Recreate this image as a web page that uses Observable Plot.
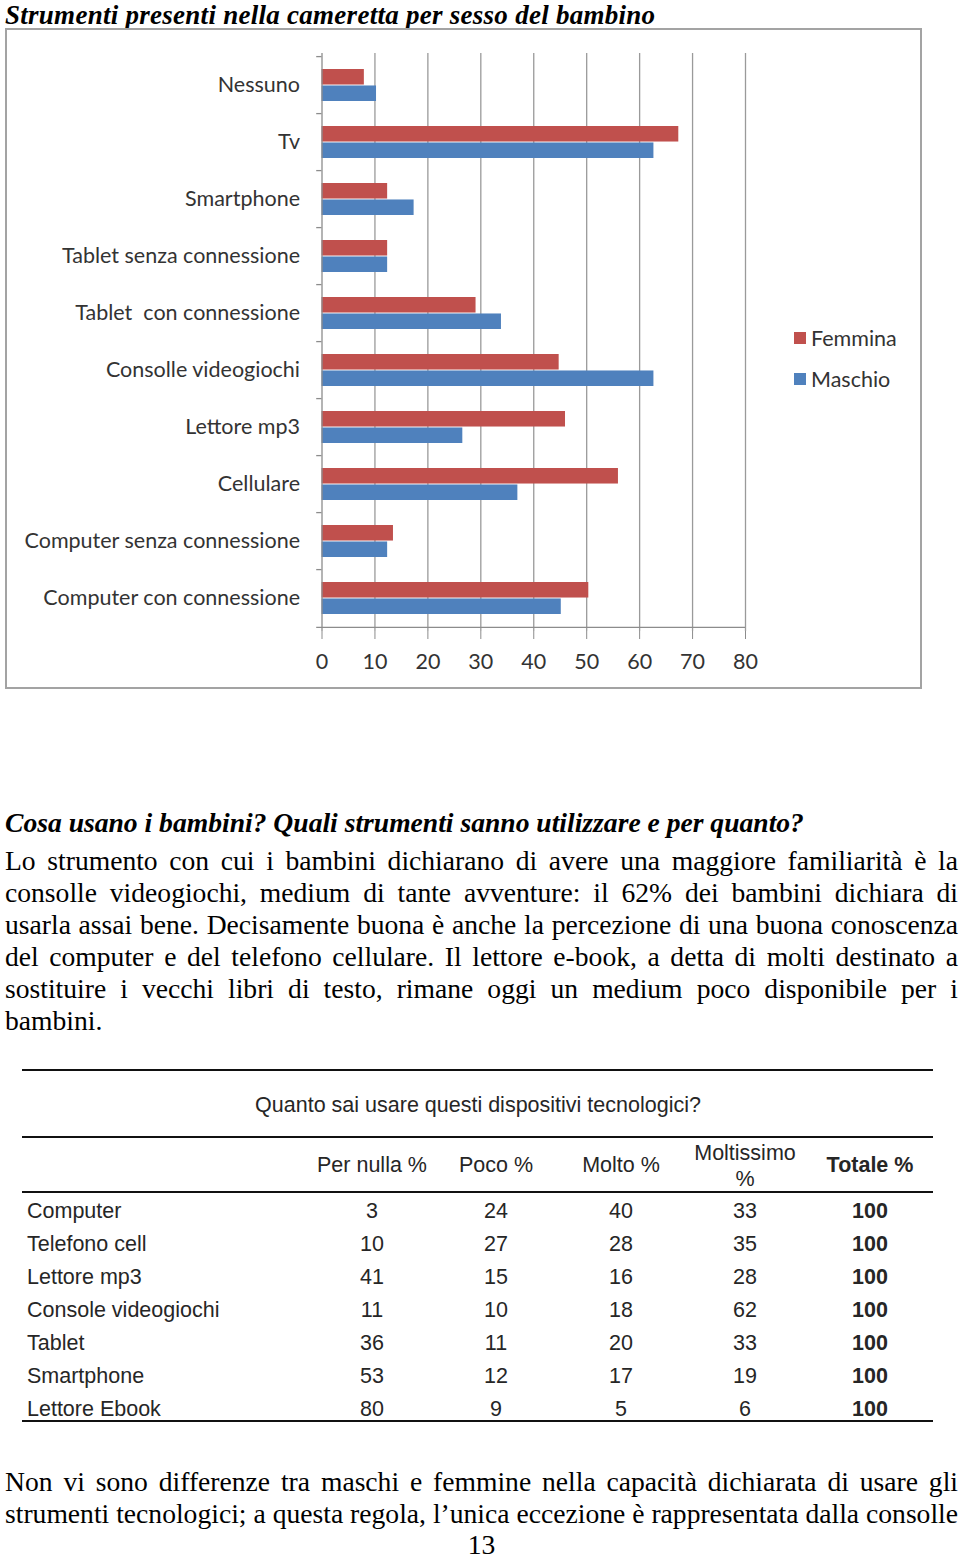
<!DOCTYPE html>
<html><head><meta charset="utf-8">
<script src="https://cdn.jsdelivr.net/npm/d3@7"></script>
<script src="https://cdn.jsdelivr.net/npm/@observablehq/plot@0.6"></script>
<style>
html,body{margin:0;padding:0;background:#fff}
body{width:960px;height:1557px;position:relative;overflow:hidden}
.serif{position:absolute;font-family:"Liberation Serif","Times New Roman",serif;font-size:27.6px;color:#000}
.bi{font-weight:bold;font-style:italic}
.jl{text-align:justify;text-align-last:justify;height:32px;line-height:32px}
.ll{text-align:left;height:32px;line-height:32px}
#box{position:absolute;left:5px;top:28px;width:913px;height:657px;border:2px solid #a3a3a3}
#box svg text{white-space:pre}
#legend{position:absolute;left:794px;top:318px;font-family:Lato,"Open Sans",sans-serif;font-size:21.5px;color:#333}
#legend .it{position:relative;height:41px;line-height:41px;padding-left:17px}
#legend .sw{position:absolute;left:0;top:14px;width:12px;height:12px}
.tb{position:absolute;font-family:"Liberation Sans",Arial,sans-serif;font-size:21.5px;color:#262626;line-height:24px;height:24px;white-space:nowrap}
.rule{position:absolute;left:22px;width:911px;height:2px;background:#111}
</style>
</head><body>
<div class="serif bi" style="left:5px;top:0.5px;line-height:28px;font-size:27px;letter-spacing:0.27px">Strumenti presenti nella cameretta per sesso del bambino</div>
<div id="box"></div>
<div id="legend"></div>
<div class="serif bi" style="left:5px;top:807.7px;line-height:30px">Cosa usano i bambini? Quali strumenti sanno utilizzare e per quanto?</div>
<div id="para1" class="serif" style="left:5px;top:845.3px;width:953px"></div>
<div id="table"></div>
<div id="para2" class="serif" style="left:5px;top:1466.3px;width:953px"></div>
<div id="pnum" class="serif" style="left:5px;top:1532.5px;width:953px;height:24px;line-height:24px;text-align:center"></div>
<script>
// ---- chart data ----
const categories = ["Nessuno","Tv","Smartphone","Tablet senza connessione","Tablet  con connessione","Consolle videogiochi","Lettore mp3","Cellulare","Computer senza connessione","Computer con connessione"];
const femmina = [8, 67.4, 12.4, 12.4, 29.1, 44.8, 46, 56, 13.5, 50.4];
const maschio = [10.3, 62.7, 17.4, 12.4, 33.9, 62.7, 26.6, 37, 12.4, 45.2];
const series = ["Femmina","Maschio"];
const seriesColors = ["#C0504D","#4F81BD"];
const xTicks = [0,10,20,30,40,50,60,70,80];

// ---- table data ----
const tableTitle = "Quanto sai usare questi dispositivi tecnologici?";
const tableColumns = ["Per nulla %","Poco %","Molto %","Moltissimo|%","Totale %"];
const devices = ["Computer","Telefono cell","Lettore mp3","Console videogiochi","Tablet","Smartphone","Lettore Ebook"];
const perNulla = [3,10,41,11,36,53,80];
const poco = [24,27,15,10,11,12,9];
const molto = [40,28,16,18,20,17,5];
const moltissimo = [33,35,28,62,33,19,6];
const totale = [100,100,100,100,100,100,100];

// ---- texts ----
const paragraph1 = [
 "Lo strumento con cui i bambini dichiarano di avere una maggiore familiarità è la",
 "consolle videogiochi, medium di tante avventure: il 62% dei bambini dichiara di",
 "usarla assai bene. Decisamente buona è anche la percezione di una buona conoscenza",
 "del computer e del telefono cellulare. Il lettore e-book, a detta di molti destinato a",
 "sostituire i vecchi libri di testo, rimane oggi un medium poco disponibile per i",
 "bambini."
];
const paragraph2 = [
 "Non vi sono differenze tra maschi e femmine nella capacità dichiarata di usare gli",
 "strumenti tecnologici; a questa regola, l’unica eccezione è rappresentata dalla consolle"
];
const pageNumber = "13";

// ---- chart ----
const W = 913, H = 657, mt = 23, mb = 56, ml = 314.5, mr = 175;
const pInner = 0.43;
const step = (H - mt - mb) / categories.length;
const bw = step * (1 - pInner);
const gray = "#8c8c8c";
const chart = Plot.plot({
  width: W, height: H, marginTop: mt, marginBottom: mb, marginLeft: ml, marginRight: mr,
  style: {fontFamily: "Lato, 'Open Sans', sans-serif", fontSize: "21.5px", color: "#333", background: "transparent", overflow: "visible"},
  x: {domain: [0, 80], ticks: xTicks, label: null},
  y: {domain: categories, paddingInner: pInner, paddingOuter: pInner / 2, label: null},
  color: {domain: series, range: seriesColors},
  marks: [
    Plot.ruleX(xTicks.slice(1), {stroke: "#9a9a9a", strokeWidth: 1.3}),
    Plot.barX(categories, {y: d => d, x: (d, i) => femmina[i], fill: () => series[0], insetBottom: bw / 2}),
    Plot.barX(categories, {y: d => d, x: (d, i) => maschio[i], fill: () => series[1], insetTop: bw / 2}),
    Plot.ruleX([0], {stroke: gray, strokeWidth: 1.3}),
    Plot.ruleY(categories, {y: d => d, x1: -1, x2: 0, dy: -step / 2, stroke: gray, strokeWidth: 1.3}),
    Plot.ruleY([categories[categories.length - 1]], {y: d => d, x1: -1, x2: 80, dy: step / 2, stroke: gray, strokeWidth: 1.3}),
    Plot.axisX({ticks: xTicks, tickSize: 8, tickPadding: 14, stroke: gray, fill: "#333", label: null}),
    Plot.axisY({tickSize: 0, tickPadding: 22, fill: "#333", label: null})
  ]
});
document.getElementById("box").appendChild(chart);

// legend
const lg = document.getElementById("legend");
series.forEach((s, i) => {
  const it = document.createElement("div"); it.className = "it";
  it.innerHTML = `<span class="sw" style="background:${seriesColors[i]}"></span>${s}`;
  lg.appendChild(it);
});

// paragraphs (each source line kept as its own justified line)
function fillPara(id, lines, lastJustified) {
  const el = document.getElementById(id);
  const width = el.clientWidth;
  lines.forEach((t, i) => {
    const d = document.createElement("div");
    d.className = (i < lines.length - 1 || lastJustified) ? "jl" : "ll";
    el.appendChild(d);
    const probe = document.createElement("span");
    probe.style.whiteSpace = "nowrap";
    probe.textContent = t;
    d.appendChild(probe);
    const w = probe.getBoundingClientRect().width;
    const nSp = (t.match(/ /g) || []).length;
    if (w > width - 1) d.style.wordSpacing = (-(w - width + 2) / Math.max(1, nSp)) + "px";
    d.textContent = t;
  });
}
fillPara("para1", paragraph1, false);
fillPara("para2", paragraph2, true);
document.getElementById("pnum").textContent = pageNumber;

// table
const tbl = document.getElementById("table");
function put(text, x, yc, align, bold) {
  const s = document.createElement("div");
  s.className = "tb";
  s.textContent = text;
  s.style.top = (yc - 12) + "px";
  if (bold) s.style.fontWeight = "bold";
  if (align === "left") { s.style.left = x + "px"; }
  else { s.style.left = (x - 400) + "px"; s.style.width = "800px"; s.style.textAlign = "center"; }
  tbl.appendChild(s);
}
[1069, 1136, 1191, 1420].forEach(y => {
  const r = document.createElement("div"); r.className = "rule"; r.style.top = y + "px"; tbl.appendChild(r);
});
put(tableTitle, 478, 1105, "center");
const colX = [372, 496, 621, 745, 870];
tableColumns.forEach((c, j) => {
  const parts = c.split("|");
  if (parts.length === 2) { put(parts[0], colX[j], 1153, "center"); put(parts[1], colX[j], 1179, "center"); }
  else put(c, colX[j], 1165, "center", j === 4);
});
const cols = [perNulla, poco, molto, moltissimo, totale];
devices.forEach((dv, i) => {
  const yc = 1211 + 33 * i;
  put(dv, 27, yc, "left");
  cols.forEach((col, j) => put(String(col[i]), colX[j], yc, "center", j === 4));
});
</script>
</body></html>
